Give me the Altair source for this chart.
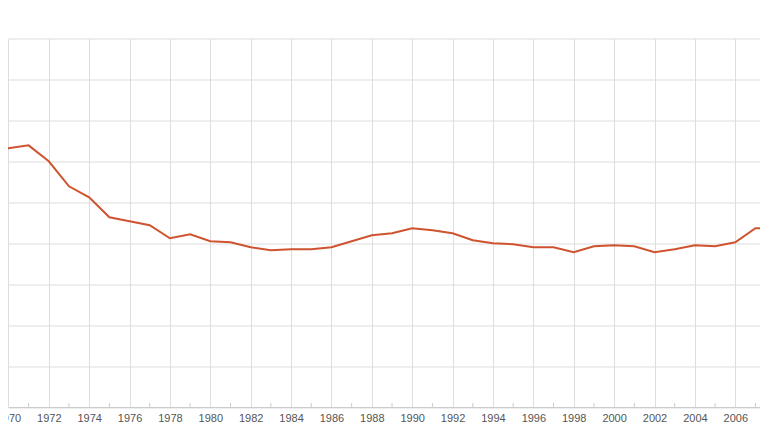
import altair as alt
import pandas as pd

years = list(range(1969, 2009))
values = [32.68, 31.59, 31.95, 30.00, 26.95, 25.61, 23.17, 22.68, 22.20, 20.61,
          21.10, 20.24, 20.12, 19.51, 19.15, 19.27, 19.27, 19.51, 20.24, 20.98,
          21.22, 21.83, 21.59, 21.22, 20.37, 20.00, 19.88, 19.51, 19.51, 18.90,
          19.63, 19.76, 19.63, 18.90, 19.27, 19.76, 19.63, 20.12, 21.83, 21.83]

major_years = list(range(1970, 2010, 2))
minor_years = list(range(1969, 2009, 2))
y_ticks = list(range(0, 50, 5))

df = pd.DataFrame({"year": years, "value": values})
minor_df = pd.DataFrame({"year": minor_years})

xscale = alt.Scale(domain=[1969.98, 2007.225], nice=False, zero=False)

line = alt.Chart(df).mark_line(color="#d0532f", strokeWidth=2, clip=True).encode(
    x=alt.X("year:Q", scale=xscale, title=None,
            axis=alt.Axis(values=major_years, format="d", grid=True, ticks=False,
                          labelPadding=5, labelFlush=False, labelOverlap=False,
                          labelBound=False, labelFontSize=11, labelColor="#555555",
                          labelFont="Liberation Sans", domainColor="#cccccc",
                          gridColor="#dddddd")),
    y=alt.Y("value:Q", scale=alt.Scale(domain=[0, 45], nice=False), title=None,
            axis=alt.Axis(values=y_ticks, labels=False, ticks=False, domain=False,
                          grid=True, gridColor="#dddddd")),
)

minor = alt.Chart(minor_df).mark_rule(color="#cccccc", clip=True).encode(
    x=alt.X("year:Q", scale=xscale),
    y=alt.value(364.5),
    y2=alt.value(368.5),
)

chart = alt.layer(minor, line).properties(
    width=752, height=368.5,
    autosize=alt.AutoSizeParams(type="none"),
    padding={"left": 0, "top": 30.5, "right": 0, "bottom": 17},
).configure_view(strokeWidth=0)

chart.save("out.html", embed_options={"renderer": "svg", "actions": False})
